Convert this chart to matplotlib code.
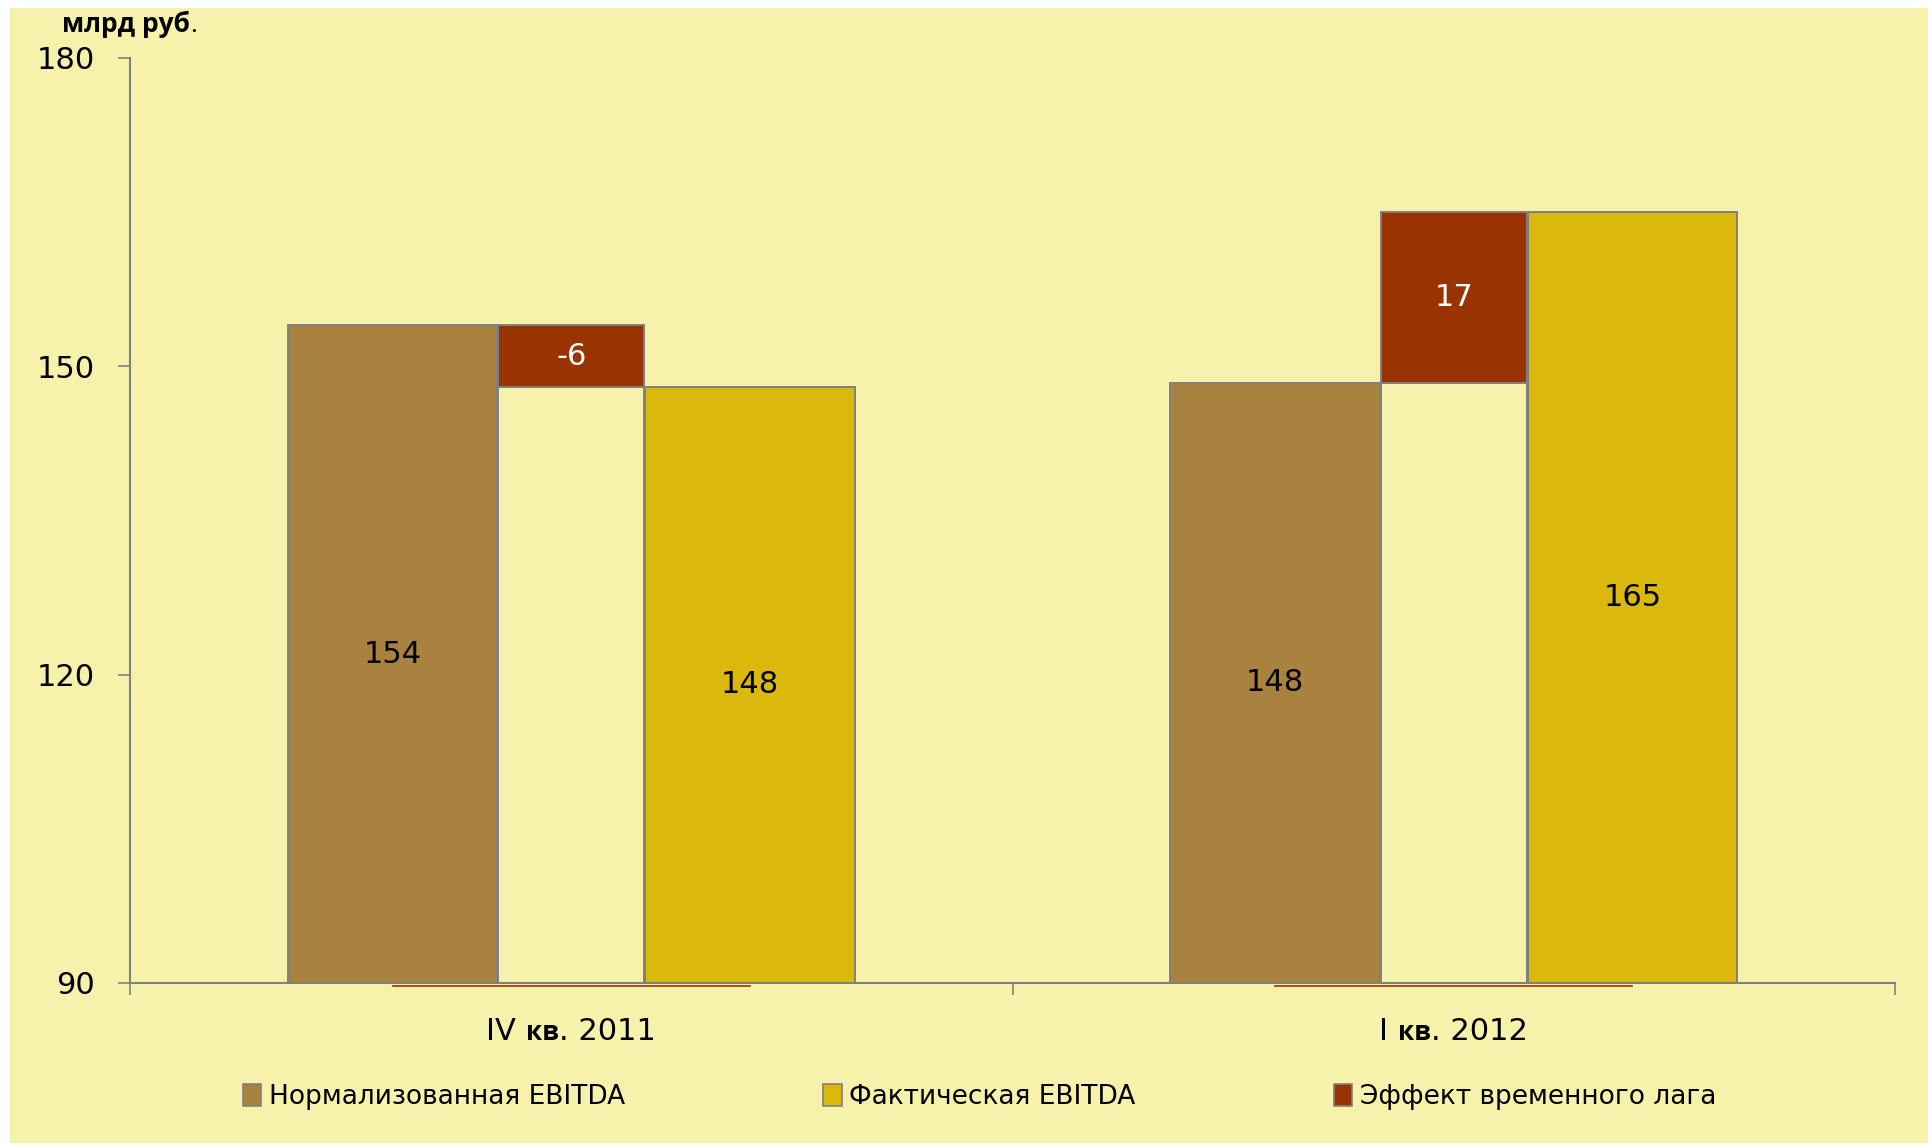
import matplotlib
matplotlib.use("Agg")
import matplotlib.pyplot as plt
from matplotlib.patches import Rectangle, Patch
from matplotlib.offsetbox import TextArea, HPacker, AnnotationBbox
import matplotlib.transforms as mtransforms

# ---- data ----
cat_prefix = ["IV", "I"]
cat_mid = ["кв", "кв"]
cat_suffix = [". 2011", ". 2012"]
normalized = [154.0, 148.4]
lag_effect = [-6.0, 16.6]
actual = [148.0, 165.0]
yticks = [90, 120, 150, 180]
series_names = ["Нормализованная EBITDA", "Фактическая EBITDA", "Эффект временного лага"]
unit_label = "млрд руб"

# ---- style ----
BG = "#F7F2AB"
BROWN = "#AA8240"
GOLD = "#DBB90C"
RED = "#993300"
EDGE = "#808080"
NARROW = ["DejaVu Sans"]
BOLDF = ["Open Sans", "DejaVu Sans"]

plt.rcParams["font.family"] = NARROW

fig = plt.figure(figsize=(19.32, 11.46), dpi=100, facecolor="white")
fig.patches.append(Rectangle((10 / 1932, 3 / 1146), 1918 / 1932, 1135 / 1146,
                             transform=fig.transFigure, facecolor=BG,
                             edgecolor="none", zorder=-10))

ax = fig.add_axes([130 / 1932, 1 - 983 / 1146, (1895 - 130) / 1932, (983 - 58) / 1146])
ax.set_facecolor(BG)
ax.patch.set_alpha(0)

w_side = 0.2374
w_mid = 0.166
off = 0.2025
lw = 1.4

for i in range(2):
    x = i
    ax.bar(x - off, normalized[i], bottom=0, width=w_side, color=BROWN,
           edgecolor=EDGE, linewidth=lw, zorder=2)
    ax.bar(x + off, actual[i], bottom=0, width=w_side, color=GOLD,
           edgecolor=EDGE, linewidth=lw, zorder=2)
    base = min(normalized[i], normalized[i] + lag_effect[i])
    ax.bar(x, base, bottom=0, width=w_mid, color=BG,
           edgecolor=EDGE, linewidth=lw, zorder=2)
    ax.bar(x, abs(lag_effect[i]), bottom=base, width=w_mid, color=RED,
           edgecolor=EDGE, linewidth=lw, zorder=2)
    # labels
    ax.text(x - off, (90 + normalized[i]) / 2, f"{normalized[i]:.0f}",
            ha="center", va="center", fontsize=22, color="black", zorder=3)
    ax.text(x + off, (90 + actual[i]) / 2, f"{actual[i]:.0f}",
            ha="center", va="center", fontsize=22, color="black", zorder=3)
    ax.text(x, base + abs(lag_effect[i]) / 2, f"{lag_effect[i]:.0f}",
            ha="center", va="center", fontsize=22, color="white", zorder=3)
    # thin line under axis
    tr = ax.transData + mtransforms.ScaledTranslation(0, -3 / 100, fig.dpi_scale_trans)
    ax.plot([x - off, x + off], [90, 90], color=RED, lw=1.2, transform=tr,
            clip_on=False, zorder=1)

ax.set_xlim(-0.5, 1.5)
ax.set_ylim(90, 180)
ax.set_yticks(yticks)
ax.set_yticklabels([str(v) for v in yticks], fontsize=22)
ax.tick_params(axis="y", length=8.6, width=1.2, color=EDGE, pad=17)
ax.set_xticks([-0.5, 0.5, 1.5])
ax.set_xticklabels([])
ax.tick_params(axis="x", length=8.6, width=1.2, color=EDGE, direction="out")
for s in ["top", "right"]:
    ax.spines[s].set_visible(False)
for s in ["left", "bottom"]:
    ax.spines[s].set_color(EDGE)
    ax.spines[s].set_linewidth(1.5)
    ax.spines[s].set_zorder(4)

# category labels with bold middle part
for i in range(2):
    parts = [
        TextArea(cat_prefix[i] + " ", textprops=dict(fontsize=22, family=NARROW)),
        TextArea(cat_mid[i], textprops=dict(fontsize=19, family=BOLDF, fontweight="bold")),
        TextArea(cat_suffix[i], textprops=dict(fontsize=22, family=NARROW)),
    ]
    box = HPacker(children=parts, align="baseline", pad=0, sep=0)
    ab = AnnotationBbox(box, (i, 1 - 1032 / 1146),
                        xycoords=mtransforms.blended_transform_factory(ax.transData, fig.transFigure),
                        frameon=False, box_alignment=(0.5, 0.5), annotation_clip=False)
    ax.add_artist(ab)

# unit label
ubox = HPacker(children=[
    TextArea(unit_label, textprops=dict(fontsize=19, family=BOLDF, fontweight="bold")),
    TextArea(".", textprops=dict(fontsize=19, family=BOLDF)),
], align="baseline", pad=0, sep=0)
fig.add_artist(AnnotationBbox(ubox, (62 / 1932, 1 - 24 / 1146), xycoords="figure fraction",
                              frameon=False, box_alignment=(0, 0.5), annotation_clip=False))

handles = [Patch(facecolor=BROWN, edgecolor=EDGE, linewidth=1.2),
           Patch(facecolor=GOLD, edgecolor=EDGE, linewidth=1.2),
           Patch(facecolor=RED, edgecolor=EDGE, linewidth=1.2)]
leg = fig.legend(handles, series_names, loc="center", ncol=3,
                 bbox_to_anchor=(0.507, 1 - 1097 / 1146), frameon=False,
                 fontsize=19, handlelength=0.7, handleheight=0.9,
                 handletextpad=0.3, columnspacing=7.5)

fig.savefig("out.png", dpi=100, facecolor="white")
